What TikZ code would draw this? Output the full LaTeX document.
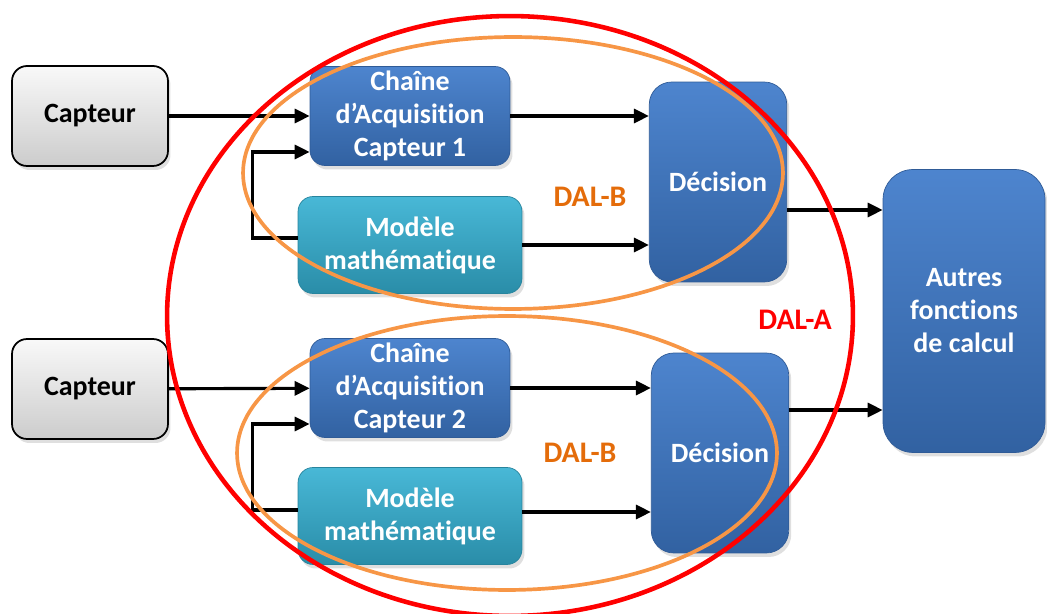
\documentclass[tikz,border=0pt]{standalone}
\usepackage{fontspec}
\setmainfont{Carlito}[Ligatures={CommonOff,ContextualOff}]
\usetikzlibrary{arrows.meta, positioning, shadows}
\definecolor{acqBlue}{RGB}{62, 122, 202}
\definecolor{modelCyan}{RGB}{52, 176, 210}
\definecolor{dalRed}{RGB}{255, 0, 0}
\definecolor{dalOrange}{RGB}{247, 150, 70}
\definecolor{dalText}{RGB}{228, 108, 10}

\begin{document}
\begin{tikzpicture}[
    x=0.02cm, y=-0.02cm,
    every node/.style={font=\fontsize{15.9}{18.8}\selectfont\bfseries, align=center, inner sep=1pt},
    capteur/.style={rectangle, rounded corners=0.3cm, draw=black, line width=1pt, top color=gray!5, bottom color=gray!40, text=black, minimum width=3.12cm, minimum height=2cm, drop shadow={opacity=0.25, shadow xshift=0.5mm, shadow yshift=-0.8mm}},
    acq/.style={rectangle, rounded corners=0.3cm, draw=acqBlue!75!black, line width=0.4pt, top color=acqBlue!92!white, bottom color=acqBlue!80!black, text=white, minimum width=4cm, minimum height=1.98cm, drop shadow={opacity=0.25, shadow xshift=0.5mm, shadow yshift=-0.8mm}},
    modele/.style={acq, draw=modelCyan!75!black, top color=modelCyan!90!white, bottom color=modelCyan!80!black, minimum width=4.48cm, minimum height=1.94cm},
    decision/.style={acq, rounded corners=0.45cm, minimum width=2.75cm, minimum height=4cm},
    autres/.style={acq, rounded corners=0.6cm, minimum width=3.24cm, minimum height=5.66cm},
    flow/.style={-{Triangle[length=0.3cm, width=0.28cm]}, line width=1.8pt, black},
    dalA/.style={draw=dalRed, line width=2.6pt},
    dalB/.style={draw=dalOrange, line width=2.1pt},
    dallabel/.style={font=\fontsize{17}{20}\selectfont\bfseries},
]
\useasboundingbox (0,0) rectangle (1047,614);
% boxes
\node[capteur] (cap1) at (90,116) {Capteur};
\node[capteur] (cap2) at (90,389) {Capteur};
\node[acq] (acq1) at (410,116) {Chaîne\\d’Acquisition\\Capteur 1};
\node[acq] (acq2) at (410,388) {Chaîne\\d’Acquisition\\Capteur 2};
\node[modele] (mod1) at (410,245) {Modèle\\mathématique};
\node[modele] (mod2) at (410,516) {Modèle\\mathématique};
\node[decision] (dec1) at (718,182) {Décision};
\node[decision] (dec2) at (720,453) {Décision};
\node[autres] (autres) at (964,311) {Autres\\fonctions\\de calcul};
% connectors
\draw[flow] (cap1) -- (acq1);
\draw[flow] (cap2) -- (acq2);
\draw[flow] ([yshift=0.14cm]mod1.west) -- ++(-45,0) |- ([yshift=-0.72cm]acq1.west);
\draw[flow] ([yshift=0.12cm]mod2.west) -- ++(-45,0) |- ([yshift=-0.72cm]acq2.west);
\draw[flow] (acq1.east) -- (acq1.east -| dec1.west);
\draw[flow] (acq2.east) -- (acq2.east -| dec2.west);
\draw[flow] (mod1.east) -- (mod1.east -| dec1.west);
\draw[flow] ([yshift=0.08cm]mod2.east) -- ([yshift=0.08cm]mod2.east -| dec2.west);
\draw[flow] ([yshift=-0.56cm]dec1.east) -- ([yshift=-0.56cm]dec1.east -| autres.west);
\draw[flow] ([yshift=0.86cm]dec2.east) -- ([yshift=0.86cm]dec2.east -| autres.west);
% DAL zones
\draw[dalA] (510,316) ellipse [x radius=6.86cm, y radius=6cm];
\draw[dalB] (513,173) ellipse [x radius=5.4cm, y radius=2.72cm];
\draw[dalB] (507,453) ellipse [x radius=5.4cm, y radius=2.74cm];
\node[dallabel, text=dalText] (dalb1) at (590,197) {DAL-B};
\node[dallabel, text=dalText] (dalb2) at (580,453) {DAL-B};
\node[dallabel, text=dalRed] (dala) at (795,320) {DAL-A};
\end{tikzpicture}
\end{document}
